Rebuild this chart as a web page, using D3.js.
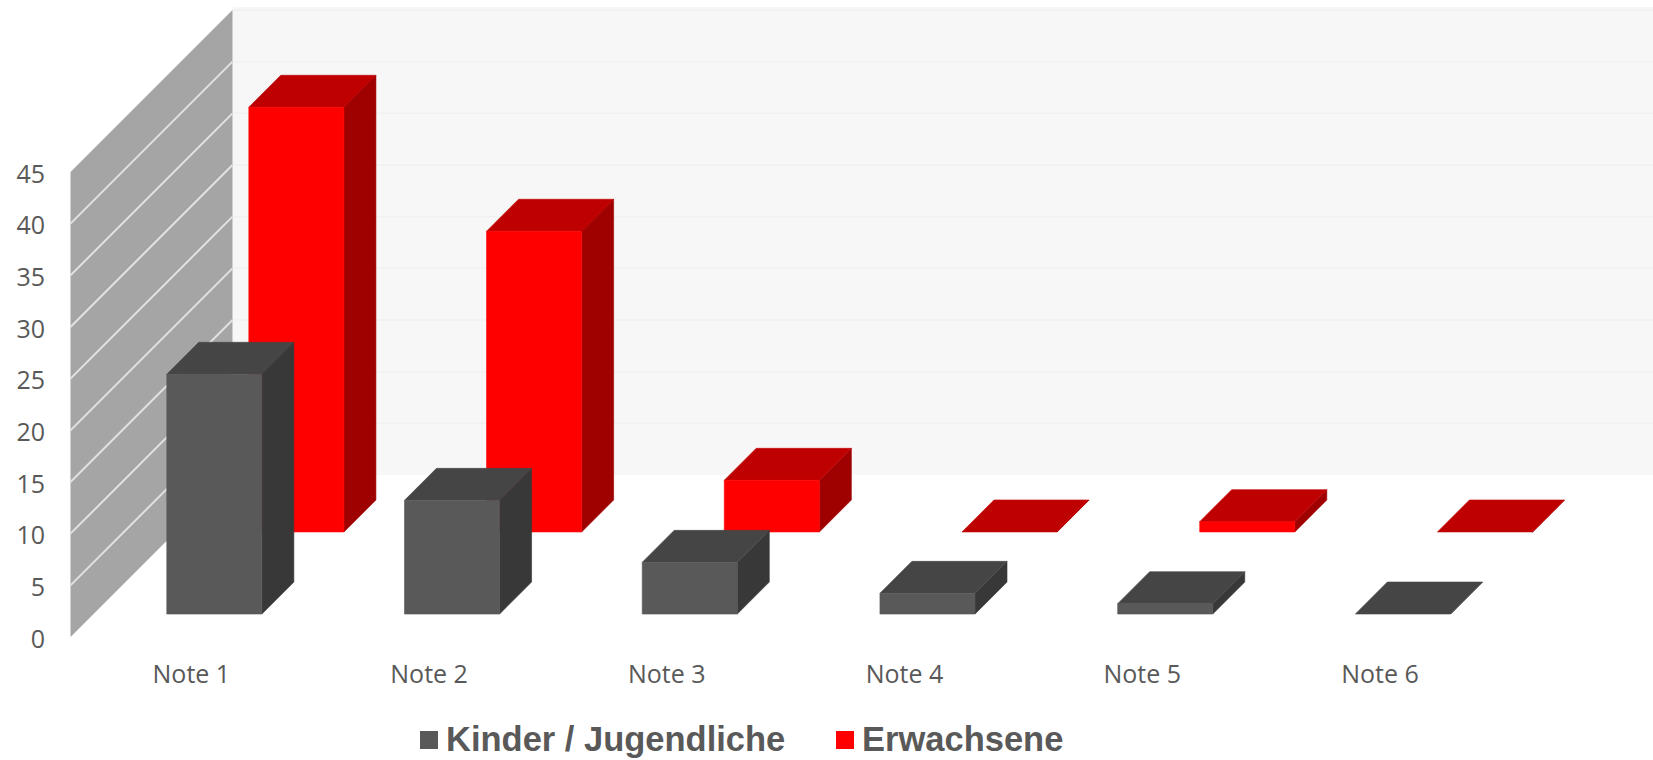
<!DOCTYPE html>
<html>
<head>
<meta charset="utf-8">
<script src="https://cdn.jsdelivr.net/npm/d3@7"></script>
<style>
    html, body { margin: 0; padding: 0; background: #fff; overflow: hidden; }
</style>
</head>
<body>
<div id="svg"></div>
<script>
var categories = ["Note 1", "Note 2", "Note 3", "Note 4", "Note 5", "Note 6"];
var seriesNames = ["Kinder / Jugendliche", "Erwachsene"];
var kinderValues = [23.2, 11, 5, 2, 1, 0];
var erwachseneValues = [41.1, 29.1, 5, 0, 1, 0];
var yTicks = [0, 5, 10, 15, 20, 25, 30, 35, 40, 45];

var width = 1653;
var height = 760;
var wallDepth = 162;

var colors = {};
colors[seriesNames[0]] = { front: "#595959", top: "#454545", side: "#383838" };
colors[seriesNames[1]] = { front: "#ff0000", top: "#bf0000", side: "#9f0000" };

var svg = d3.select("#svg").append("svg")
    .attr("width", width)
    .attr("height", height)
    .style("display", "block");

var x = d3.scaleBand().domain(categories).range([143.8, 1427.5]).paddingInner(0.6).paddingOuter(0);
var y = d3.scaleLinear().domain([0, 45]).range([637, 172]);
// depth into the picture, every unit goes one pixel right and one pixel up
var depth = d3.scaleBand().domain(seriesNames).range([0, 160]).paddingInner(0.61).paddingOuter(0.28);

var wallX = 70.5;

function pt(px, py, d) {
    return (px + d) + "," + (py - d);
}

// back wall
svg.append("rect")
    .attr("x", wallX + wallDepth)
    .attr("y", y(45) - wallDepth - 3)
    .attr("width", width - wallX - wallDepth)
    .attr("height", y(0) - y(45) + 3)
    .attr("fill", "#f7f7f7");

svg.selectAll(".backgrid")
    .data(yTicks.slice(1))
    .enter().append("line")
    .attr("x1", wallX + wallDepth)
    .attr("x2", width)
    .attr("y1", function (d) { return y(d) - wallDepth; })
    .attr("y2", function (d) { return y(d) - wallDepth; })
    .attr("stroke", "#f1f1f1")
    .attr("stroke-width", 1.5);

// side wall
svg.append("polygon")
    .attr("points", [pt(wallX, y(0), 0), pt(wallX, y(45), 0), pt(wallX, y(45), wallDepth), pt(wallX, y(0), wallDepth)].join(" "))
    .attr("fill", "#a5a5a5");

svg.selectAll(".sidegrid")
    .data(yTicks.slice(1, -1))
    .enter().append("line")
    .attr("x1", wallX)
    .attr("x2", wallX + wallDepth)
    .attr("y1", function (d) { return y(d); })
    .attr("y2", function (d) { return y(d) - wallDepth; })
    .attr("stroke", "#e2e2e2")
    .attr("stroke-width", 2);

// bars, the series at the back goes first
function drawSeries(name, values) {
    var d0 = depth(name);
    var d1 = d0 + depth.bandwidth();
    var c = colors[name];
    var g = svg.append("g");

    values.forEach(function (v, i) {
        var x0 = x(categories[i]);
        var x1 = x0 + x.bandwidth();
        var bar = g.append("g")
            .attr("stroke-width", 0.6)
            .attr("stroke-linejoin", "round");

        // side
        bar.append("polygon")
            .attr("points", [pt(x1, y(0), d0), pt(x1, y(v), d0), pt(x1, y(v), d1), pt(x1, y(0), d1)].join(" "))
            .attr("fill", c.side)
            .attr("stroke", c.side);
        // top
        bar.append("polygon")
            .attr("points", [pt(x0, y(v), d0), pt(x1, y(v), d0), pt(x1, y(v), d1), pt(x0, y(v), d1)].join(" "))
            .attr("fill", c.top)
            .attr("stroke", c.top);
        // front
        if (v > 0) {
            bar.append("rect")
                .attr("x", x0 + d0)
                .attr("y", y(v) - d0)
                .attr("width", x.bandwidth())
                .attr("height", y(0) - y(v))
                .attr("fill", c.front)
                .attr("stroke", c.front);
        }
    });
}

drawSeries(seriesNames[1], erwachseneValues);
drawSeries(seriesNames[0], kinderValues);

// axes
var y_axis = d3.axisLeft(y).tickValues(yTicks).tickSize(0).tickPadding(0);
var x_axis = d3.axisBottom(x).tickSize(0).tickPadding(28);

var yAxisG = svg.append("g").attr("transform", "translate(45,0)").call(y_axis);
var xAxisG = svg.append("g").attr("transform", "translate(0,637)").call(x_axis);

yAxisG.select(".domain").remove();
xAxisG.select(".domain").remove();

yAxisG.selectAll(".tick text").attr("dy", "0.4em");

svg.selectAll(".tick text")
    .attr("fill", "#595959")
    .style("font-family", "'Open Sans'")
    .style("font-size", "25px");

// legend
var legendItems = [
    { name: seriesNames[0], swatch: 420, text: 446 },
    { name: seriesNames[1], swatch: 836, text: 862 }
];

var legend = svg.selectAll(".legend")
    .data(legendItems)
    .enter().append("g")
    .attr("class", "legend");

legend.append("rect")
    .attr("x", function (d) { return d.swatch; })
    .attr("y", 731)
    .attr("width", 18)
    .attr("height", 18)
    .attr("fill", function (d) { return colors[d.name].front; });

legend.append("text")
    .attr("x", function (d) { return d.text; })
    .attr("y", 751)
    .attr("fill", "#595959")
    .style("font-family", "'Liberation Sans'")
    .style("font-weight", "bold")
    .style("font-size", "34.5px")
    .text(function (d) { return d.name; });
</script>
</body>
</html>
